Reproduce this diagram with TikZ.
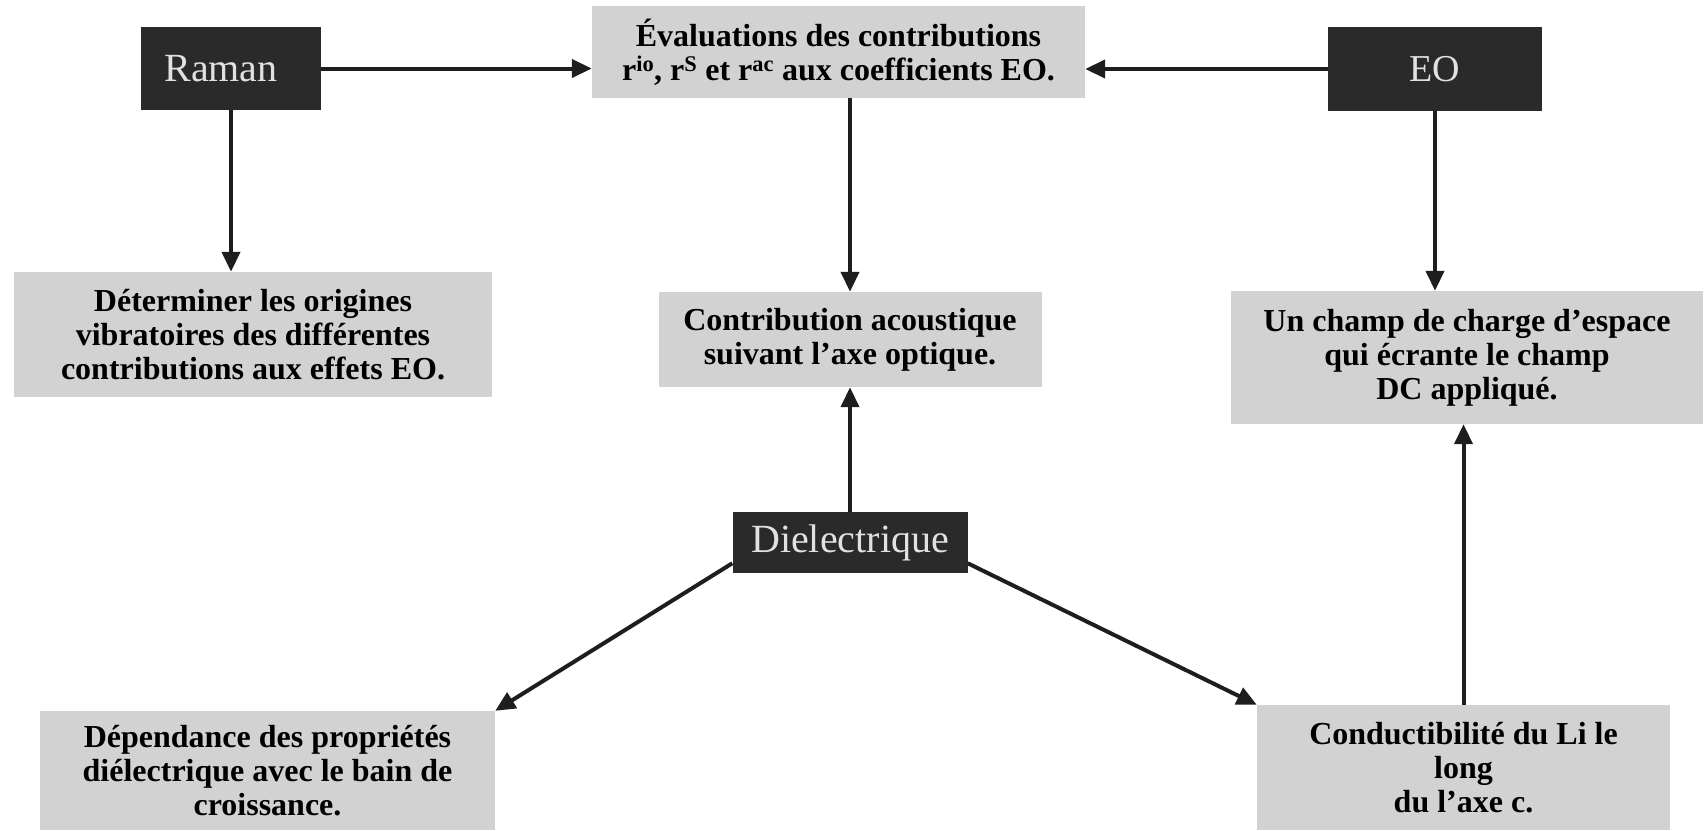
\documentclass[tikz,border=0pt]{standalone}
\usepackage{fontspec}
\setmainfont{Liberation Serif}
\usetikzlibrary{arrows.meta,calc}
\definecolor{boxgray}{RGB}{210,210,210}
\definecolor{darkfill}{RGB}{42,42,42}
\definecolor{lighttext}{RGB}{225,225,225}
\definecolor{linecol}{RGB}{30,30,30}
\tikzset{
  lightbox/.style={fill=boxgray, inner sep=0pt, align=center,
    font=\fontsize{32}{34}\selectfont\bfseries, text=black},
  darkbox/.style={fill=darkfill, inner sep=0pt,
    font=\fontsize{40}{42}\selectfont, text=lighttext},
  conn/.style={line width=4pt, draw=linecol,
    -{Triangle[length=20pt,width=18pt]}}
}
\begin{document}
\begin{tikzpicture}[x=1pt,y=-1pt]
\useasboundingbox (0,0) rectangle (1705,830);
\fill[white] (0,0) rectangle (1705,830);

\node[darkbox, minimum width=180pt, minimum height=83pt] (raman) at (231,68.5) {\hspace*{-20pt}Raman};
\node[darkbox, minimum width=214pt, minimum height=84pt, font=\fontsize{38}{40}\selectfont] (eo) at (1435,69) {EO};
\node[darkbox, minimum width=235pt, minimum height=61pt] (diel) at (850,542.5) {Dielectrique};

\node[lightbox, minimum width=493pt, minimum height=92pt] (eval) at (838.5,52)
  {Évaluations des contributions\\ r\textsuperscript{io}, r\textsuperscript{S} et r\textsuperscript{ac} aux coefficients EO.};
\node[lightbox, minimum width=478pt, minimum height=125pt] (det) at (253,334.5)
  {Déterminer les origines\\ vibratoires des différentes\\ contributions aux effets EO.};
\node[lightbox, minimum width=383pt, minimum height=95pt] (contrib) at (850,339.5)
  {Contribution acoustique\\ suivant l’axe optique.};
\node[lightbox, minimum width=472pt, minimum height=133pt] (champ) at (1467,357.5)
  {Un champ de charge d’espace\\ qui écrante le champ\\ DC appliqué.};
\node[lightbox, minimum width=455pt, minimum height=119pt] (dep) at (267.5,770.5)
  {Dépendance des propriétés\\ diélectrique avec le bain de\\ croissance.};
\node[lightbox, minimum width=413pt, minimum height=125pt] (cond) at (1463.5,767.5)
  {Conductibilité du Li le\\ long\\ du l’axe c.};

\draw[conn] (raman.east) -- (raman.east -| eval.west);
\draw[conn] (eo.west) -- (eo.west -| eval.east);
\draw[conn] (raman.south) -- (raman.south |- det.north);
\draw[conn] (eval.south -| contrib.north) -- (contrib.north);
\draw[conn] (eo.south) -- (eo.south |- champ.north);
\draw[conn] (diel.north) -- (contrib.south);
\draw[conn] (cond.north) -- (cond.north |- champ.south);
\draw[conn] (diel.-170) -- (dep.north east);
\draw[conn] (diel.-10) -- (cond.north west);
\end{tikzpicture}
\end{document}
